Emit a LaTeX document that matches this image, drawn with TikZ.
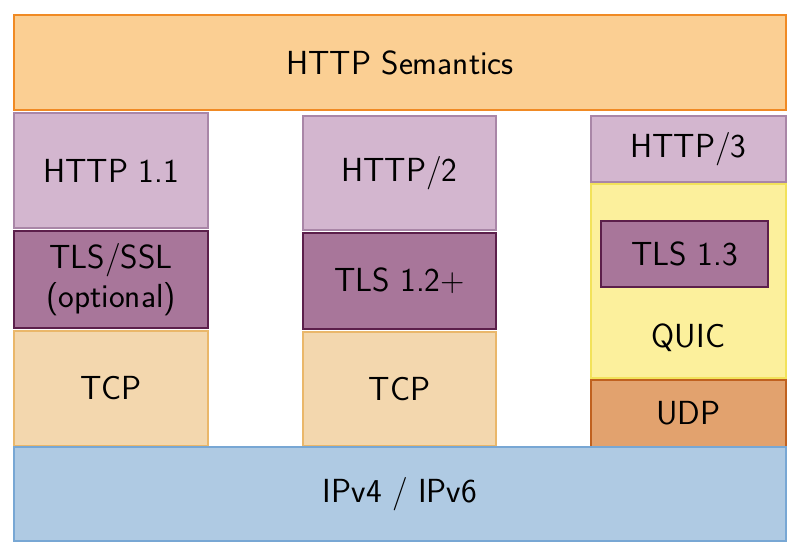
\documentclass[tikz,border=0pt]{standalone}
\usepackage{tikz}
\usetikzlibrary{positioning}
\definecolor{semfill}{HTML}{FBCF93}\definecolor{semline}{HTML}{F08A24}
\definecolor{httpfill}{HTML}{D3B6CF}\definecolor{httpline}{HTML}{A986A7}
\definecolor{tlsfill}{HTML}{A8769A}\definecolor{tlsline}{HTML}{5C1F4B}
\definecolor{tcpfill}{HTML}{F3D7AE}\definecolor{tcpline}{HTML}{EAB76A}
\definecolor{quicfill}{HTML}{FCF09C}\definecolor{quicline}{HTML}{F2E25A}
\definecolor{udpfill}{HTML}{E2A26E}\definecolor{udpline}{HTML}{C0611F}
\definecolor{ipfill}{HTML}{AFCAE3}\definecolor{ipline}{HTML}{78A7D4}
\begin{document}
\begin{tikzpicture}[line width=1.1pt,
  layer/.style ={rectangle,draw,inner sep=0pt,align=center,text=black,
    font=\sffamily\fontsize{19}{22}\selectfont},
  sem/.style ={layer,fill=semfill,draw=semline},
  http/.style ={layer,fill=httpfill,draw=httpline},
  tls/.style ={layer,fill=tlsfill,draw=tlsline},
  tcp/.style ={layer,fill=tcpfill,draw=tcpline},
  quic/.style ={layer,fill=quicfill,draw=quicline},
  udp/.style ={layer,fill=udpfill,draw=udpline},
  ip/.style ={layer,fill=ipfill,draw=ipline}]
\useasboundingbox (0,0) rectangle (16,11.12);
\node[sem, minimum width=15.44cm, minimum height=1.9cm] (sem) at (8,9.87) {HTTP Semantics};
% HTTP 1.1 stack
\node[http, minimum width=3.88cm, minimum height=2.3cm] (h1) at (2.22,7.71) {HTTP 1.1};
\node[tls, minimum width=3.88cm, minimum height=1.94cm] (tls1) at (2.22,5.53) {TLS/SSL\\(optional)};
\node[tcp, minimum width=3.88cm, minimum height=2.3cm] (tcp1) at (2.22,3.35) {TCP};
% HTTP/2 stack
\node[http, minimum width=3.86cm, minimum height=2.28cm] (h2) at (7.99,7.66) {HTTP/2};
\node[tls, minimum width=3.86cm, minimum height=1.92cm] (tls2) at (7.99,5.5) {TLS 1.2+};
\node[tcp, minimum width=3.86cm, minimum height=2.28cm] (tcp2) at (7.99,3.34) {TCP};
% HTTP/3 stack
\node[http, minimum width=3.9cm, minimum height=1.32cm] (h3) at (13.77,8.14) {HTTP/3};
\node[quic, minimum width=3.9cm, minimum height=3.88cm] (quic) at (13.77,5.5) {};
\node[tls, minimum width=3.34cm, minimum height=1.32cm] (tls3) at (13.69,6.04) {TLS 1.3};
\node[layer, draw=none] (quiclbl) at (13.77,4.36) {QUIC};
\node[udp, minimum width=3.9cm, minimum height=1.34cm] (udp) at (13.77,2.85) {UDP};
\node[ip, minimum width=15.44cm, minimum height=1.88cm] (ip) at (8,1.24) {IPv4 / IPv6};
\end{tikzpicture}
\end{document}
